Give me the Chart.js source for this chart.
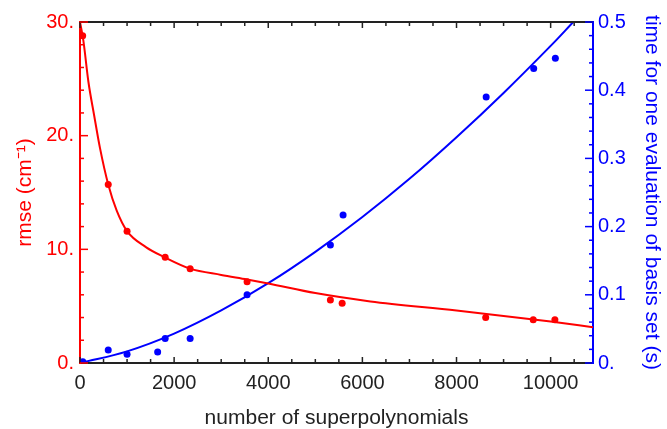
<!DOCTYPE html>
<html>
<head>
<meta charset="utf-8">
<script src="https://cdn.jsdelivr.net/npm/chart.js@4.4.0/dist/chart.umd.min.js"></script>
<style>
  html, body { margin: 0; padding: 0; background: #fff; }
</style>
</head>
<body>
<canvas id="fitChart" width="667" height="429"></canvas>
<script>
// rmse (left axis, red) - measured points
const mseX = [57, 600, 1000, 1810, 2340, 3550, 5320, 5570, 8620, 9630, 10090];
const mseY = [28.8, 15.7, 11.6, 9.3, 8.3, 7.15, 5.55, 5.25, 4.0, 3.8, 3.8];
// rmse fitted curve
const mseFitX = [0, 70, 180, 300, 425, 600, 780, 1000, 1400, 1800, 2340, 3000, 3550, 4000, 5000, 6170, 8000, 10000, 10900];
const mseFitY = [30, 28.4, 24.7, 21.8, 18.9, 15.7, 13.4, 11.6, 10.2, 9.3, 8.3, 7.75, 7.35, 7.0, 6.15, 5.42, 4.62, 3.65, 3.15];

// time per evaluation (right axis, blue) - measured points
const timeX = [60, 600, 1000, 1650, 1810, 2340, 3550, 5320, 5590, 8630, 9640, 10100];
const timeY = [0.002, 0.019, 0.013, 0.016, 0.036, 0.036, 0.100, 0.173, 0.217, 0.390, 0.432, 0.447];
// time fitted curve
const timeFitX = [0, 1000, 2000, 3000, 4000, 5000, 6000, 7000, 8000, 9000, 10000, 10480];
const timeFitY = [0, 0.017, 0.043, 0.077, 0.117, 0.163, 0.214, 0.270, 0.331, 0.396, 0.465, 0.5];

// tick values and labels
const xTicks = [0, 2000, 4000, 6000, 8000, 10000];
const xTickLabels = ['0', '2000', '4000', '6000', '8000', '10000'];
const mseTicks = [0, 10, 20, 30];
const mseTickLabels = ['0.', '10.', '20.', '30.'];
const timeTicks = [0, 0.1, 0.2, 0.3, 0.4, 0.5];
const timeTickLabels = ['0.', '0.1', '0.2', '0.3', '0.4', '0.5'];

const RED = '#ff0000';
const BLUE = '#0000ff';
const DARK = '#222222';
const FONT = 'Liberation Sans';

function pts(xs, ys) {
    return xs.map((x, i) => ({x: x, y: ys[i]}));
}

// Mathematica style ticks pointing into the frame, plus the top frame line
const frameTicks = {
    id: 'frameTicks',
    afterDraw(chart) {
        const {ctx, chartArea: a, scales} = chart;
        const seg = (x1, y1, x2, y2) => {
            ctx.beginPath();
            ctx.moveTo(x1, y1);
            ctx.lineTo(x2, y2);
            ctx.stroke();
        };
        ctx.save();
        ctx.lineWidth = 2;
        ctx.strokeStyle = DARK;
        seg(a.left, a.top, a.right, a.top);

        ctx.lineWidth = 1.5;
        for (let v = 0; v <= scales.x.max; v += 500) {
            const px = scales.x.getPixelForValue(v);
            const len = v % 2000 === 0 ? 6 : 4;
            seg(px, a.bottom, px, a.bottom - len);
            seg(px, a.top, px, a.top + len);
        }
        ctx.strokeStyle = RED;
        for (let v = 0; v <= 30; v += 2) {
            const py = scales.y.getPixelForValue(v);
            seg(a.left, py, a.left + (v % 10 === 0 ? 8 : 4), py);
        }
        ctx.strokeStyle = BLUE;
        for (let i = 0; i <= 25; i++) {
            const py = scales.y1.getPixelForValue(i * 0.02);
            seg(a.right, py, a.right - (i % 5 === 0 ? 8 : 4), py);
        }
        ctx.restore();
    }
};

let ctx = document.getElementById('fitChart').getContext('2d');
let fitChart = new Chart(ctx, {
    type: 'line',
    data: {
        datasets: [{
            label: 'rmse fit',
            data: pts(mseFitX, mseFitY),
            yAxisID: 'y',
            borderColor: RED,
            borderWidth: 2,
            pointRadius: 0,
            cubicInterpolationMode: 'monotone',
            fill: false
        }, {
            label: 'rmse',
            data: pts(mseX, mseY),
            yAxisID: 'y',
            showLine: false,
            pointRadius: 3.5,
            pointBackgroundColor: RED,
            pointBorderColor: RED,
            pointBorderWidth: 0
        }, {
            label: 'time fit',
            data: pts(timeFitX, timeFitY),
            yAxisID: 'y1',
            borderColor: BLUE,
            borderWidth: 2,
            pointRadius: 0,
            tension: 0.4,
            fill: false
        }, {
            label: 'time',
            data: pts(timeX, timeY),
            yAxisID: 'y1',
            showLine: false,
            pointRadius: 3.5,
            pointBackgroundColor: BLUE,
            pointBorderColor: BLUE,
            pointBorderWidth: 0
        }]
    },
    options: {
        responsive: false,
        animation: false,
        layout: { padding: { top: 22, left: 0, right: 0, bottom: 0 } },
        plugins: { legend: { display: false }, tooltip: { enabled: false } },
        scales: {
            x: {
                type: 'linear',
                min: 0,
                max: 10900,
                afterBuildTicks: s => { s.ticks = xTicks.map(v => ({value: v})); },
                afterFit: s => { s.height = 66; },
                grid: { display: true, drawOnChartArea: false, drawTicks: false },
                border: { display: true, color: DARK, width: 2 },
                ticks: {
                    padding: 8,
                    color: DARK,
                    maxRotation: 0,
                    font: { family: FONT, size: 20 },
                    callback: (v, i) => xTickLabels[i]
                },
                title: {
                    display: true,
                    text: 'number of superpolynomials',
                    color: DARK,
                    padding: 0,
                    font: { family: FONT, size: 21, lineHeight: 1 }
                }
            },
            y: {
                type: 'linear',
                position: 'left',
                min: 0,
                max: 30,
                afterBuildTicks: s => { s.ticks = mseTicks.map(v => ({value: v})); },
                afterFit: s => { s.width = 80; },
                grid: { display: true, drawOnChartArea: false, drawTicks: false },
                border: { display: true, color: RED, width: 2 },
                ticks: {
                    padding: 6,
                    color: RED,
                    font: { family: FONT, size: 20 },
                    callback: (v, i) => mseTickLabels[i]
                },
                title: {
                    display: true,
                    text: 'rmse (cm\u207B\u00B9)',
                    color: RED,
                    padding: { top: 15 },
                    font: { family: FONT, size: 21, lineHeight: 1 }
                }
            },
            y1: {
                type: 'linear',
                position: 'right',
                min: 0,
                max: 0.5,
                afterBuildTicks: s => { s.ticks = timeTicks.map(v => ({value: v})); },
                afterFit: s => { s.width = 74; },
                grid: { display: true, drawOnChartArea: false, drawTicks: false },
                border: { display: true, color: BLUE, width: 2 },
                ticks: {
                    padding: 5,
                    color: BLUE,
                    font: { family: FONT, size: 20 },
                    callback: (v, i) => timeTickLabels[i]
                },
                title: {
                    display: true,
                    text: 'time for one evaluation of basis set (s)',
                    color: BLUE,
                    padding: { top: 5 },
                    font: { family: FONT, size: 21, lineHeight: 1 }
                }
            }
        }
    },
    plugins: [frameTicks]
});
</script>
</body>
</html>
